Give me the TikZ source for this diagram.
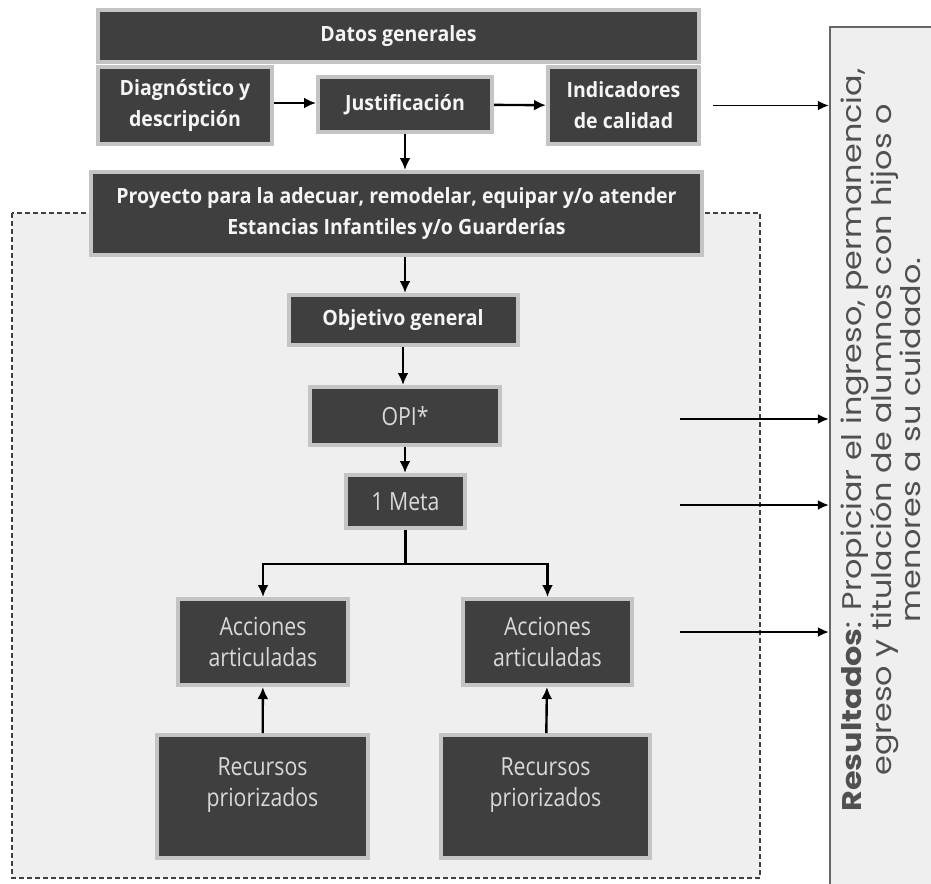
\documentclass[tikz,border=0pt]{standalone}
\usepackage{fontspec}
\setmainfont{Open Sans}
\newfontfamily\boxfont[FakeStretch=0.85]{Open Sans}
\newfontfamily\headfont[FakeStretch=0.93]{Open Sans}
\newfontfamily\resfont[FakeStretch=1.18]{Poppins}
\usetikzlibrary{arrows.meta}

\definecolor{boxdark}{RGB}{63,63,63}
\definecolor{boxrim}{RGB}{196,196,196}
\definecolor{zone}{RGB}{239,239,239}
\definecolor{restext}{RGB}{80,80,80}

\begin{document}
\begin{tikzpicture}[x=1pt,y=-1pt,
	box/.style={draw=boxrim,line width=4pt,fill=boxdark,text=white!85!black,align=center,
		inner sep=0pt,font=\boxfont\fontsize{25}{31}\selectfont},
	bbox/.style={box,text=white!96!black,font=\headfont\bfseries\fontsize{21}{31}\selectfont},
	arr/.style={-{Latex[length=12pt,width=11pt]},line width=2.4pt},
	rarr/.style={-{Latex[length=11pt,width=10pt]},line width=1.7pt},
	fk/.style={line width=3pt}
	]
	\useasboundingbox (0,0) rectangle (931,883);
	
	% dashed zone and result panel
	\draw[line width=1.4pt,draw=black!75,fill=zone,dash pattern=on 5pt off 3pt] (12,213) rectangle (760,878);
	\node[draw=black!60,line width=2.5pt,fill=zone,minimum width=110pt,minimum height=900pt] (res) at (885,477) {};
	\node[text=restext,inner sep=0pt] (restxt) at (885,440)
	{\rotatebox{90}{\resfont\fontsize{27}{29.5}\selectfont
		\begin{tabular}{@{}c@{}}\textbf{Resultados}: Propiciar el ingreso, permanencia,\\
		egreso y titulación de alumnos con hijos o\\ menores a su cuidado.\end{tabular}}};
	
	% upper block
	\node[bbox,minimum width=601pt,minimum height=52pt] (datos) at (398.5,36) {Datos generales};
	\node[bbox,minimum width=174pt,minimum height=77pt] (diag) at (185,105.5) {Diagnóstico y\\descripción};
	\node[bbox,minimum width=174pt,minimum height=55pt] (just) at (405,104.5) {Justificación};
	\node[bbox,minimum width=151pt,minimum height=77pt] (ind) at (623.5,105.5) {Indicadores\\de calidad};
	\node[bbox,minimum width=611pt,minimum height=83pt] (proy) at (396.5,213.5)
	{Proyecto para la adecuar, remodelar, equipar y/o atender\\Estancias Infantiles y/o Guarderías};
	
	% chain
	\node[bbox,minimum width=229pt,minimum height=50pt] (obj) at (403,320) {Objetivo general};
	\node[box,minimum width=190pt,minimum height=58pt] (opi) at (405,416) {OPI*};
	\node[box,minimum width=119pt,minimum height=53pt] (meta) at (405.5,501.5) {1 Meta};
	\node[box,minimum width=170pt,minimum height=86pt] (acc1) at (263,642) {Acciones\\articuladas};
	\node[box,minimum width=169pt,minimum height=86pt] (acc2) at (547.5,642) {Acciones\\articuladas};
	\node[box,minimum width=211pt,minimum height=123pt,text depth=28pt] (rec1) at (262.5,796.5) {Recursos\\priorizados};
	\node[box,minimum width=209pt,minimum height=123pt,text depth=28pt] (rec2) at (545.5,796.5) {Recursos\\priorizados};
	
	\draw[arr] (diag.east |- 0,103) -- (just.west |- 0,103);
	\draw[arr] (just) -- (ind);
	\draw[arr] (just) -- (just |- proy.north);
	\draw[arr] (proy.south -| just) -- (just |- obj.north);
	\draw[arr] (obj) -- (obj |- opi.north);
	\draw[arr] (opi) -- (opi |- meta.north);
	\coordinate (fork) at (405.5,564);
	\draw[fk] (meta) -- (fork);
	\draw[fk,arr] (fork) -| (acc1.north);
	\draw[fk,arr] (fork) -| (acc2.north);
	\draw[arr] (rec1) -- (acc1);
	\draw[arr] (rec2) -- (acc2);
	
	% arrows to the result panel
	\coordinate (r1) at (680,419);
	\coordinate (r2) at (680,505);
	\coordinate (r3) at (680,632);
	\draw[rarr] ([xshift=12pt]ind.east) -- (ind.east -| res.west);
	\draw[rarr] (r1) -- (r1 -| res.west);
	\draw[rarr] (r2) -- (r2 -| res.west);
	\draw[rarr] (r3) -- (r3 -| res.west);
\end{tikzpicture}
\end{document}
